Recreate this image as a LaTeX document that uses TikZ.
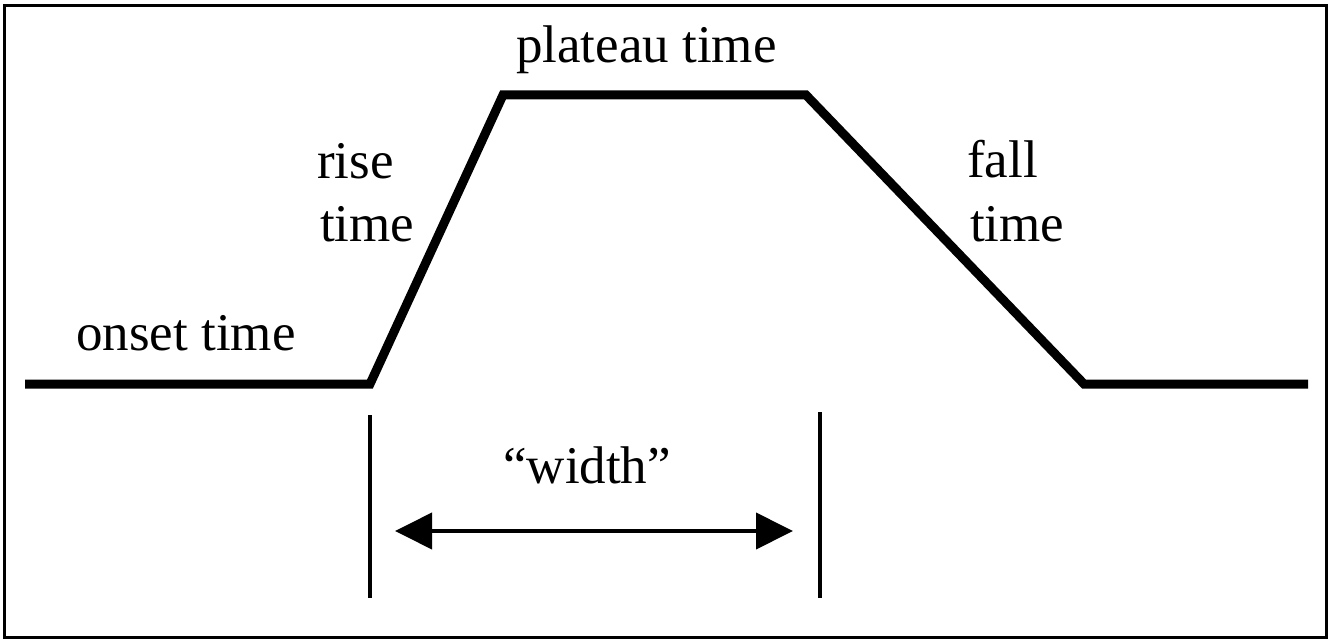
\documentclass[tikz,border=0pt]{standalone}
\usepackage{fontspec}
\setmainfont{Liberation Serif}
\usetikzlibrary{arrows.meta}
\tikzset{
  lbl/.style={inner sep=0pt, anchor=base west, font=\fontsize{53}{63}\selectfont},
  pulse/.style={line width=9pt, line join=miter, line cap=butt},
  marker/.style={line width=3.5pt},
  span/.style={line width=4pt, {Triangle[length=37pt,width=36pt]}-{Triangle[length=37pt,width=36pt]}},
  frame/.style={line width=3pt}
}
\begin{document}
\begin{tikzpicture}[x=1pt,y=-1pt]
\useasboundingbox (0,0) rectangle (1331,639);
\draw[frame] (4.5,6) rectangle (1326.5,637);
% pulse
\coordinate (p0) at (25,384);
\coordinate (p1) at (370,384);
\coordinate (p2) at (503,95);
\coordinate (p3) at (806,95);
\coordinate (p4) at (1084,384);
\coordinate (p5) at (1308,384);
\draw[pulse] (p0) -- (p1) -- (p2) -- (p3) -- (p4) -- (p5);
% markers
\coordinate (m1a) at (370,415);
\coordinate (m1b) at (370,598);
\coordinate (m2a) at (820,412);
\coordinate (m2b) at (820,598);
\draw[marker] (m1a) -- (m1b);
\draw[marker] (m2a) -- (m2b);
% arrow
\coordinate (a1) at (395,531);
\coordinate (a2) at (793,531);
\draw[span] (a1) -- (a2);
% labels
\node[lbl] (plateau) at (516,63) {plateau time};
\node[lbl] (onset) at (76,350) {onset time};
\node[lbl] (rise1) at (317,179) {rise};
\node[lbl] (rise2) at (320,242) {time};
\node[lbl] (fall1) at (967,178) {fall};
\node[lbl] (fall2) at (970,242) {time};
\node[lbl] (width) at (503,483) {“width”};
\end{tikzpicture}
\end{document}
